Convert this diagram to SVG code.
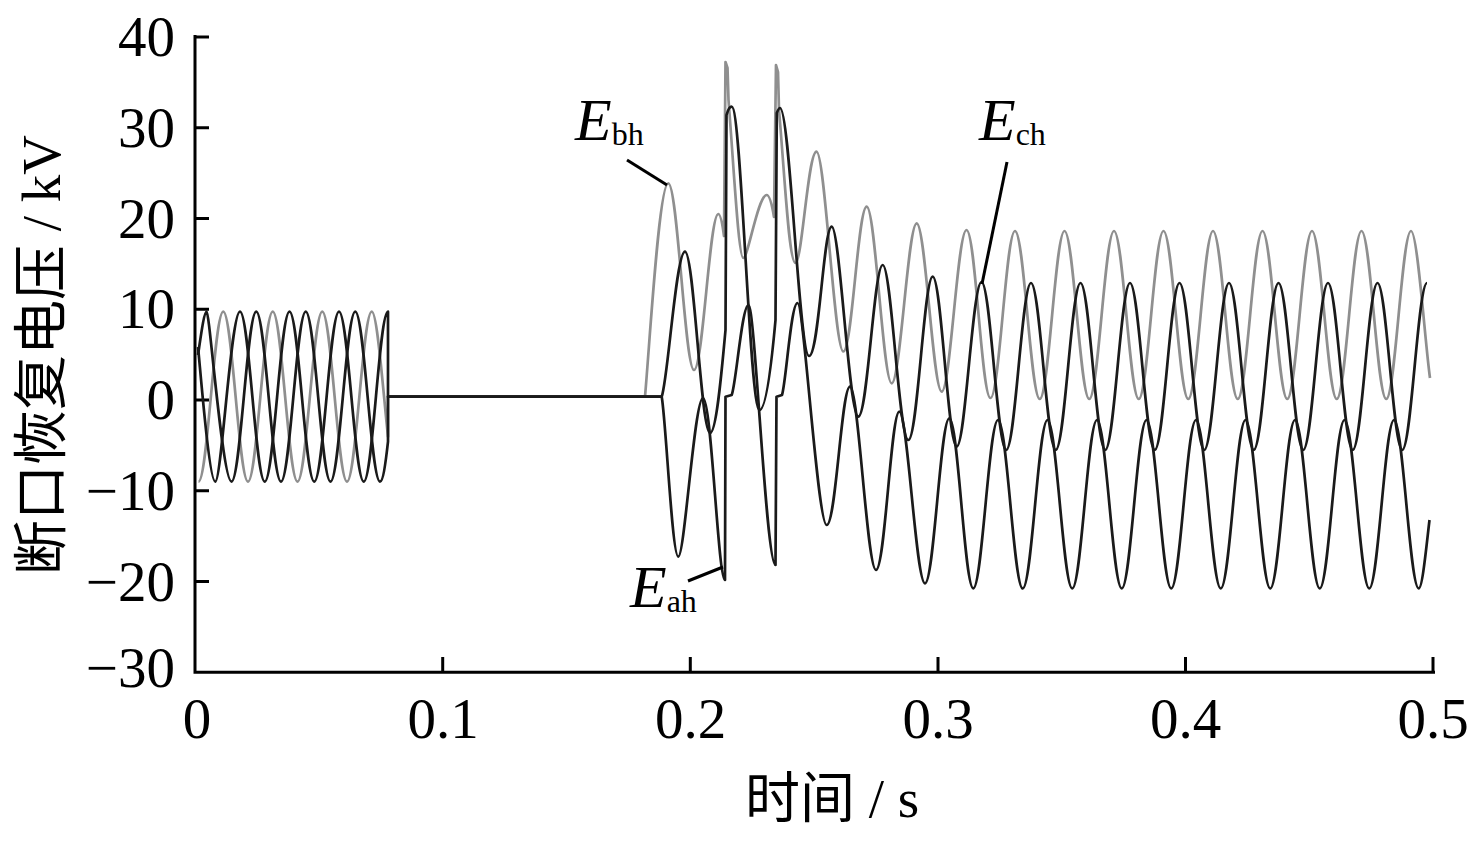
<svg xmlns="http://www.w3.org/2000/svg" width="1482" height="849" viewBox="0 0 1482 849">
<style>
.ax{stroke:#000;stroke-width:3;fill:none}
.tk{stroke:#000;stroke-width:3}
.num{font-family:"Liberation Serif","Times New Roman",serif;font-size:57px;fill:#000}
.yl{text-anchor:end}
.xl{text-anchor:middle}
.title{font-family:"Liberation Serif","Noto Sans CJK SC",serif;font-size:55px;fill:#000}
.gray{stroke:#8f8f8f;stroke-width:2.7;fill:none;stroke-linejoin:round}
.blk{stroke:#1a1a1a;stroke-width:2.7;fill:none;stroke-linejoin:round}
.lab{font-family:"Liberation Serif","Times New Roman",serif;font-size:60px;fill:#000}
.sub{font-size:32px;font-style:normal}
.lead{stroke:#000;stroke-width:3}
</style>
<rect width="1482" height="849" fill="#fff"/>
<g id="axes">
<path class="ax" d="M195 35 V672.3 H1435"/>
<g id="yticks">
<line class="tk" x1="195" y1="37" x2="209" y2="37"/>
<line class="tk" x1="195" y1="127.75" x2="209" y2="127.75"/>
<line class="tk" x1="195" y1="218.5" x2="209" y2="218.5"/>
<line class="tk" x1="195" y1="309.25" x2="209" y2="309.25"/>
<line class="tk" x1="195" y1="400" x2="209" y2="400"/>
<line class="tk" x1="195" y1="490.75" x2="209" y2="490.75"/>
<line class="tk" x1="195" y1="581.5" x2="209" y2="581.5"/>
</g>
<g id="xticks">
<line class="tk" x1="442.7" y1="672" x2="442.7" y2="657"/>
<line class="tk" x1="690.3" y1="672" x2="690.3" y2="657"/>
<line class="tk" x1="938" y1="672" x2="938" y2="657"/>
<line class="tk" x1="1185.5" y1="672" x2="1185.5" y2="657"/>
<line class="tk" x1="1433" y1="672" x2="1433" y2="657"/>
</g>
<g id="ylabels">
<text class="num yl" x="175" y="56">40</text>
<text class="num yl" x="175" y="146.75">30</text>
<text class="num yl" x="175" y="237.5">20</text>
<text class="num yl" x="175" y="328.25">10</text>
<text class="num yl" x="175" y="419">0</text>
<text class="num yl" x="175" y="509.75">−10</text>
<text class="num yl" x="175" y="600.5">−20</text>
<text class="num yl" x="175" y="687">−30</text>
</g>
<g id="xlabels">
<text class="num xl" x="197" y="738">0</text>
<text class="num xl" x="443" y="738">0.1</text>
<text class="num xl" x="690.5" y="738">0.2</text>
<text class="num xl" x="938" y="738">0.3</text>
<text class="num xl" x="1185.5" y="738">0.4</text>
<text class="num xl" x="1433" y="738">0.5</text>
</g>
<text id="xtitle" class="title" x="832" y="817" text-anchor="middle">时间 / s</text>
<text id="ytitle" class="title" transform="translate(60,355) rotate(-90)" text-anchor="middle">断口恢复电压 / kV</text>
</g>
<g id="curves">
<path id="Ebh" class="gray" d="M198.5 481.7 C207.5 481.7 214.25 311.7 223.25 311.7 S239 481.7 248 481.7 S263.75 311.7 272.75 311.7 S288.5 481.7 297.5 481.7 S313.25 311.7 322.25 311.7 S338 481.7 347 481.7 S362.75 311.7 371.75 311.7 C377.2 311.7 382.6 385.4 388 436.7 L388 396.7 L645 396.7 C650 340 659 183.3 668.3 183.3 S685 370 694 370 S709.5 214 718.3 214 C720.5 214 722.5 225 724 236 L725.5 62 L727.5 68 L728.5 100 C734 170 738.5 258 743.3 258 S758 195 766.7 195 C769.5 195 772 205 774 217 L776 65 L778 72 L779 110 C785 180 789 263 795.5 263 S808 151.7 816.5 151.7 S834.5 351.5 843.3 351.5 S858 206.7 866.7 206.7 S883 383.3 891.7 383.3 S908 223.3 916.7 223.3 S933 391.7 941.7 391.7 S957.5 230 966.5 230 S981.5 398 990.5 398 S1006 231 1015 231 s15.75 168 24.75 168 s15.75 -168 24.75 -168 s15.75 168 24.75 168 s15.75 -168 24.75 -168 s15.75 168 24.75 168 s15.75 -168 24.75 -168 s15.75 168 24.75 168 s15.75 -168 24.75 -168 s15.75 168 24.75 168 s15.75 -168 24.75 -168 s15.75 168 24.75 168 s15.75 -168 24.75 -168 s15.75 168 24.75 168 s15.75 -168 24.75 -168 s15.75 168 24.75 168 s15.75 -168 24.75 -168 C1417.5 231 1425 342.5 1430 378"/>
<path id="Ech" class="blk" d="M198 355 C201 335 204 311.7 206.75 311.7 S222.5 481.7 231.5 481.7 S247.25 311.7 256.25 311.7 S272 481.7 281 481.7 S296.75 311.7 305.75 311.7 S321.5 481.7 330.5 481.7 S346.25 311.7 355.25 311.7 S371 481.7 380 481.7 C382.7 481.7 385.3 466.3 388 441.7 L388 396.7 L661.7 396.7 C668 380 676 251.7 685 251.7 S701 433 710 433 C716 433 721 380 725.5 330 L726.5 115 C728.5 108 730 106.7 731.7 106.7 C741.5 106.7 749.5 410 759.5 410 C765.5 410 771 370 775.5 320 L776.8 113 C778 110 779 108 780 108 C790 108 799 356 809 356 S823.5 226.7 831.7 226.7 S849 416.7 858.3 416.7 S874 265 882.7 265 S899 440 908.3 440 S924 276.7 932.7 276.7 S948 446.7 956.7 446.7 S972.5 282 981.5 282 S997.25 450 1006.25 450 S1022 283 1031 283 s15.75 167 24.75 167 s15.75 -167 24.75 -167 s15.75 167 24.75 167 s15.75 -167 24.75 -167 s15.75 167 24.75 167 s15.75 -167 24.75 -167 s15.75 167 24.75 167 s15.75 -167 24.75 -167 s15.75 167 24.75 167 s15.75 -167 24.75 -167 s15.75 167 24.75 167 s15.75 -167 24.75 -167 s15.75 167 24.75 167 s15.75 -167 24.75 -167 s15.75 167 24.75 167 s15.75 -167 24.75 -167"/>
<path id="Eah" class="blk" d="M198 347 C200 365 209 481.7 215.25 481.7 S231 311.7 240 311.7 S255.75 481.7 264.75 481.7 S280.5 311.7 289.5 311.7 S305.25 481.7 314.25 481.7 S330 311.7 339 311.7 S354.75 481.7 363.75 481.7 S379.2 311.7 388 311.7 L388 396.7 L661.7 396.7 C666 420 672 556.7 678.3 556.7 S694.5 398 703 398 S718 580 725 580 L725.5 396.7 L731.7 395 C736 385 742 305 748.5 305 S766 565 775.5 565 L776.5 396.7 L782 395 C786 383 791 303 797.5 303 S817.5 525 826.7 525 S841.5 386.7 850 386.7 S867 570 876 570 S891 411.7 899.3 411.7 S916 583.3 925 583.3 S940.5 418.3 949.3 418.3 S964.5 588.3 973.3 588.3 S989 420 998 420 s15.75 168.5 24.75 168.5 s15.75 -168.5 24.75 -168.5 s15.75 168.5 24.75 168.5 s15.75 -168.5 24.75 -168.5 s15.75 168.5 24.75 168.5 s15.75 -168.5 24.75 -168.5 s15.75 168.5 24.75 168.5 s15.75 -168.5 24.75 -168.5 s15.75 168.5 24.75 168.5 s15.75 -168.5 24.75 -168.5 s15.75 168.5 24.75 168.5 s15.75 -168.5 24.75 -168.5 s15.75 168.5 24.75 168.5 s15.75 -168.5 24.75 -168.5 s15.75 168.5 24.75 168.5 s15.75 -168.5 24.75 -168.5 s15.75 168.5 24.75 168.5 C1422.5 588.5 1426.5 545 1429.5 520"/>
</g>
<g id="labels">
<g id="label-Ebh">
<text class="lab" x="575" y="140"><tspan font-style="italic">E</tspan><tspan class="sub" dy="5">bh</tspan></text>
<line class="lead" x1="627" y1="160" x2="667" y2="185"/>
</g>
<g id="label-Ech">
<text class="lab" x="979" y="140"><tspan font-style="italic">E</tspan><tspan class="sub" dy="5">ch</tspan></text>
<line class="lead" x1="1007" y1="162" x2="982" y2="284"/>
</g>
<g id="label-Eah">
<text class="lab" x="630" y="607"><tspan font-style="italic">E</tspan><tspan class="sub" dy="5">ah</tspan></text>
<line class="lead" x1="688" y1="581" x2="723" y2="567"/>
</g>
</g>
</svg>
